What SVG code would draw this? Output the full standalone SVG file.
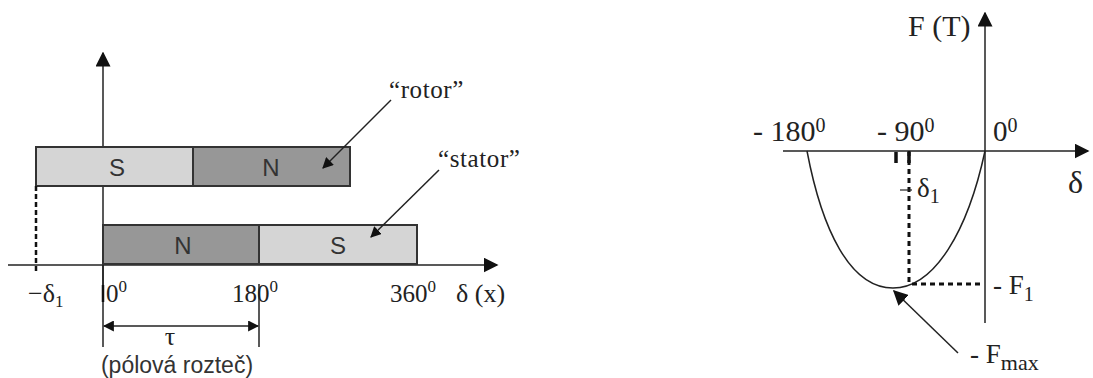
<svg xmlns="http://www.w3.org/2000/svg" width="1093" height="378" viewBox="0 0 1093 378">
<style>
.ln{stroke:#222;stroke-width:1.5;fill:none}
.bar{stroke:#333;stroke-width:2}
.light{fill:#d5d5d5}
.dark{fill:#979797}
.sans{font-family:"Liberation Sans",Arial,sans-serif;fill:#333}
.serif{font-family:"Liberation Serif","Times New Roman",serif;fill:#222}
.dot{stroke:#111;stroke-width:3;stroke-dasharray:5 4;fill:none}
</style>
<defs>
<marker id="ah" viewBox="0 0 10 10" refX="9" refY="5" markerWidth="11" markerHeight="11" markerUnits="userSpaceOnUse" orient="auto-start-reverse">
<path d="M0,0 L10,5 L0,10 z" fill="#111"/>
</marker>
<marker id="ahb" viewBox="0 0 10 10" refX="9" refY="5" markerWidth="15" markerHeight="15" markerUnits="userSpaceOnUse" orient="auto-start-reverse">
<path d="M0,0 L10,5 L0,10 z" fill="#111"/>
</marker>
</defs>

<g id="left-axes">
<line class="ln" x1="103" y1="285" x2="103" y2="53" marker-end="url(#ahb)"/>
<line class="ln" x1="8" y1="265" x2="497" y2="265" marker-end="url(#ahb)"/>
</g>

<g id="rotor">
<rect class="bar light" x="36" y="147" width="157" height="39"/>
<rect class="bar dark" x="193" y="147" width="157" height="39"/>
<text class="sans" x="117" y="176" font-size="24" text-anchor="middle">S</text>
<text class="sans" x="271" y="176" font-size="24" text-anchor="middle">N</text>
</g>

<g id="stator">
<rect class="bar dark" x="103" y="225" width="156" height="39"/>
<rect class="bar light" x="259" y="225" width="158" height="39"/>
<text class="sans" x="183" y="254" font-size="24" text-anchor="middle">N</text>
<text class="sans" x="338" y="254" font-size="24" text-anchor="middle">S</text>
</g>

<g id="left-labels">
<text class="serif" x="28" y="302" font-size="26">−δ<tspan font-size="17" dy="5">1</tspan></text>
<text class="serif" x="106" y="302" font-size="25">0<tspan font-size="17" dy="-10">0</tspan></text>
<text class="serif" x="232" y="302" font-size="25">180<tspan font-size="17" dy="-10">0</tspan></text>
<text class="serif" x="390" y="302" font-size="25">360<tspan font-size="17" dy="-10">0</tspan></text>
<text class="serif" x="456" y="302" font-size="26">δ (x)</text>
<text class="serif" x="389" y="98" font-size="25" letter-spacing="0.6">“rotor”</text>
<text class="serif" x="438" y="167" font-size="25" letter-spacing="0.6">“stator”</text>
<text class="serif" x="170" y="345" font-size="26" text-anchor="middle">τ</text>
<text class="sans" x="177" y="373" font-size="23" text-anchor="middle">(pólová rozteč)</text>
</g>

<g id="connectors">
<line x1="36" y1="186" x2="36" y2="272" stroke="#111" stroke-width="2.5" stroke-dasharray="5 3"/>
<line class="ln" x1="103" y1="265" x2="103" y2="347"/>
<line x1="103" y1="285" x2="103" y2="302" stroke="#111" stroke-width="2.5"/>
<line class="ln" x1="259" y1="284" x2="259" y2="347"/>
<line class="ln" x1="104" y1="326" x2="258" y2="326" marker-start="url(#ah)" marker-end="url(#ah)"/>
<line class="ln" x1="391" y1="100" x2="323" y2="168" stroke-width="1.2" marker-end="url(#ah)"/>
<line class="ln" x1="439" y1="170" x2="371" y2="237" stroke-width="1.2" marker-end="url(#ah)"/>
</g>

<g id="right-axes">
<line class="ln" x1="985" y1="323" x2="985" y2="13" marker-end="url(#ahb)"/>
<line class="ln" x1="783" y1="151" x2="1088" y2="151" marker-end="url(#ahb)"/>
</g>

<g id="curve">
<path class="ln" stroke-width="2" d="M807,151 C822,230 850,288 893,288 C935,288 968,230 985,151"/>
<line class="dot" x1="909" y1="151" x2="909" y2="284"/>
<line class="dot" x1="912" y1="284" x2="982" y2="284"/>
<line x1="896" y1="152" x2="896" y2="163" stroke="#111" stroke-width="3.5"/>
<line x1="909" y1="152" x2="909" y2="163" stroke="#111" stroke-width="3.5"/>
<line x1="900" y1="190" x2="912" y2="190" stroke="#222" stroke-width="1.2"/>
<line class="ln" x1="958" y1="353" x2="894" y2="291" stroke-width="2" marker-end="url(#ahb)"/>
</g>

<g id="right-labels">
<text class="serif" x="908" y="36" font-size="30">F (T)</text>
<text class="serif" x="753" y="141" font-size="30">- 180<tspan font-size="20" dy="-9">0</tspan></text>
<text class="serif" x="877" y="141" font-size="30">- 90<tspan font-size="20" dy="-9">0</tspan></text>
<text class="serif" x="993" y="141" font-size="29">0<tspan font-size="20" dy="-9">0</tspan></text>
<text class="serif" x="1068" y="193" font-size="32">δ</text>
<text class="serif" x="917" y="197" font-size="27">δ<tspan font-size="20" dy="6">1</tspan></text>
<text class="serif" x="993" y="294" font-size="27">- F<tspan font-size="20" dy="7">1</tspan></text>
<text class="serif" x="970" y="363" font-size="27">- F<tspan font-size="22" dy="7">max</tspan></text>
</g>
</svg>
